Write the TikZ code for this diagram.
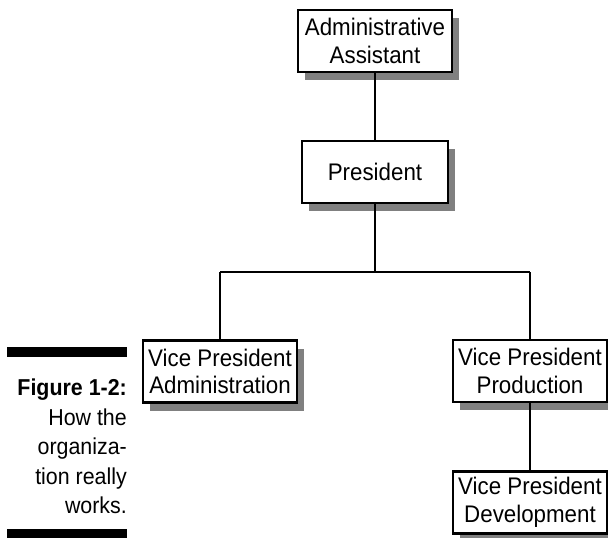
\documentclass[tikz,border=0pt]{standalone}
\usepackage{fontspec}
\setmainfont{Liberation Sans}[FakeStretch=0.93]
\begin{document}
\begin{tikzpicture}[x=1pt,y=-1pt,
  orgbox/.style={draw=black, line width=2.4pt, fill=white, minimum width=154pt, minimum height=62pt, inner sep=0pt, align=center, font=\fontsize{24}{27.5}\selectfont},
  shadowbox/.style={fill=black!50, draw=none, minimum width=154pt, minimum height=62pt, inner sep=0pt},
  link/.style={line width=1.8pt, black},
  bar/.style={fill=black, draw=none}]
\useasboundingbox (0,0) rectangle (608,538);
\fill[white] (0,0) rectangle (608,538);
% shadows
\foreach \x/\y/\w in {375/41/154, 375/172/146, 220/371.5/154, 530/371/154, 530/502.5/154}
  \node[shadowbox, minimum width=\w pt] at (\x+7,\y+8) {};
% connectors
\coordinate (h) at (375,272);
\coordinate (hl) at (220,272);
\coordinate (hr) at (530,272);
\draw[link] (375,41) -- (375,172);
\draw[link] (375,172) -- (h);
\draw[link] (hl) -- (hr);
\draw[link] (hl) -- (220,371.5);
\draw[link] (hr) -- (530,502.5);
% boxes
\node[orgbox] (aa) at (375,41) {Administrative\\Assistant};
\node[orgbox, minimum width=146pt] (pres) at (375,172) {President};
\node[orgbox] (vpa) at (220,371.5) {Vice President\\Administration};
\node[orgbox] (vpp) at (530,371) {Vice President\\Production};
\node[orgbox] (vpd) at (530,502.5) {Vice President\\Development};
% caption
\fill[bar] (7,347) rectangle (127,357);
\fill[bar] (7,529) rectangle (127,538);
\node[anchor=north east, align=right, inner sep=0pt, font=\fontsize{23}{29.5}\selectfont] (cap) at (127,379) {\textbf{Figure 1-2:}\\How the\\organiza-\\tion really\\works.};
\end{tikzpicture}
\end{document}
